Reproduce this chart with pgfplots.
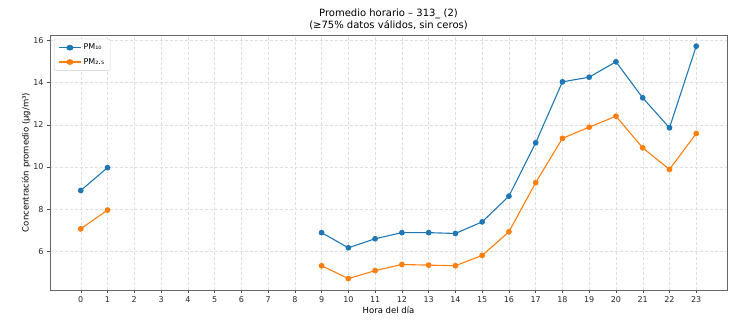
\documentclass[border=0pt]{standalone}
\usepackage{pgfplots}
\pgfplotsset{compat=1.18}
\usepackage{fontspec}
\setmainfont{DejaVu Sans}
\definecolor{tabblue}{HTML}{1F77B4}
\definecolor{taborange}{HTML}{FF7F0E}
\pgfplotstableread{
h pm10 pm25
0 8.89 7.07
1 9.97 7.96
2 nan nan
9 6.89 5.32
10 6.17 4.71
11 6.60 5.09
12 6.89 5.38
13 6.89 5.35
14 6.85 5.32
15 7.40 5.81
16 8.62 6.93
17 11.15 9.26
18 14.04 11.36
19 14.26 11.89
20 14.99 12.41
21 13.28 10.91
22 11.86 9.89
23 15.73 11.59
}\data
\begin{document}
\begin{tikzpicture}
\begin{axis}[
  scale only axis, width=677pt, height=255pt,
  xmin=-1.15, xmax=24.15, ymin=4.17, ymax=16.26,
  xtick={0,...,23}, ytick={6,8,...,16},
  unbounded coords=jump,
  grid=major, grid style={densely dashed, gray!25},
  tick align=outside, tick pos=left,
  major tick length=3pt,
  axis line style={black!60},
  every tick/.style={black!70},
  ticklabel style={font=\fontsize{8}{9.5}\selectfont, text=black!85},
  /pgf/number format/assume math mode=true,
  title={Promedio horario – 313\_ (2)\\(≥75\% datos válidos, sin ceros)},
  title style={align=center, font=\fontsize{10}{12}\selectfont, yshift=-4pt},
  xlabel={Hora del día},
  ylabel={Concentración promedio (µg/m³)},
  label style={font=\fontsize{8.5}{10}\selectfont},
  xlabel style={yshift=3pt},
  ylabel style={yshift=-4pt},
  legend pos=north west,
  legend style={font=\fontsize{8}{10}\selectfont, draw=black!20, rounded corners=2pt, inner xsep=4pt, inner ysep=3pt, row sep=3pt, at={(0.006,0.985)}},
  legend cell align=left,
  legend image post style={xscale=1.3},
]
\addplot[tabblue, line width=1.1pt, mark=*, mark size=2.3pt] table[x=h, y=pm10] {\data};
\addlegendentry{PM₁₀}
\addplot[taborange, line width=1.1pt, mark=*, mark size=2.3pt] table[x=h, y=pm25] {\data};
\addlegendentry{PM₂.₅}
\end{axis}
\path (current axis.south west)++(-50pt,-32pt) coordinate (a);
\path (current axis.north east)++(6pt,35pt) coordinate (b);
\useasboundingbox (a) rectangle (b);
\end{tikzpicture}
\end{document}
